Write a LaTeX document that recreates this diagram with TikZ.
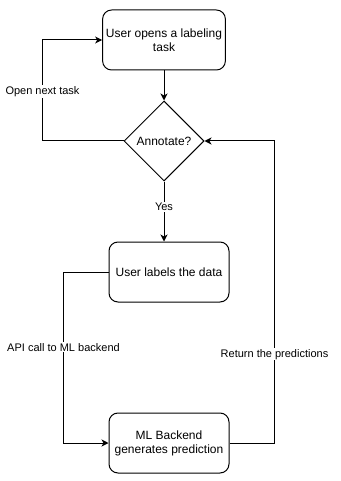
\documentclass[tikz,border=0pt]{standalone}
\usepackage{fontspec}
\setmainfont{Liberation Sans}
\usetikzlibrary{positioning, shapes.geometric, arrows.meta}

\begin{document}
\begin{tikzpicture}[x=1pt, y=-1pt, line width=1pt,
    stage/.style={draw, rounded corners=9pt, minimum width=120pt, minimum height=60pt, align=center, font=\fontsize{12}{14}\selectfont},
    choice/.style={draw, diamond, aspect=1, minimum size=80pt, inner sep=0pt, font=\fontsize{12}{14}\selectfont},
    flow/.style={-{Stealth[length=7pt, width=7pt, inset=2pt]}},
    tag/.style={fill=white, inner sep=1pt, font=\fontsize{11}{13}\selectfont}]
    \useasboundingbox (0,0) rectangle (340,481);

    \node[stage] (task) at (164,40) {User opens a labeling\\task};
    \node[choice, below=30pt of task] (decide) {Annotate?};
    \node[stage, below=60pt of decide, xshift=5pt] (label) {User labels the data};
    \node[stage, below=110pt of label] (predict) {ML Backend\\generates prediction};

    \draw[flow] (task) -- (decide);
    \draw[flow] (decide.south) -- node[tag, pos=0.42] {Yes} (decide.south |- label.north);
    \draw[flow] (decide.west) -- ++(-81,0) |- node[tag, pos=0.245] {Open next task} (task.west);
    \draw[flow] (label.west) -- ++(-45,0) |- node[tag, pos=0.22] {API call to ML backend} (predict.west);
    \draw[flow] (predict.east) -- ++(45,0) |- node[tag, pos=0.147] {Return the predictions} (decide.east);
\end{tikzpicture}
\end{document}
